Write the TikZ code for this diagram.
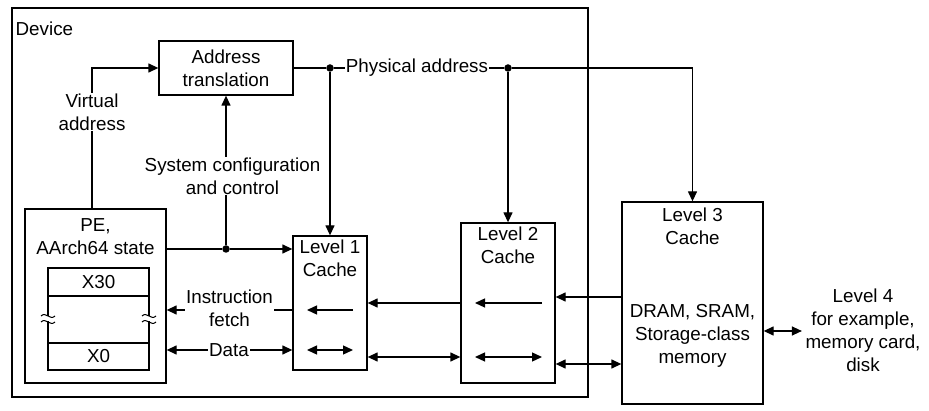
\documentclass[tikz,border=0pt]{standalone}
\usepackage{fontspec}
\setmainfont{Liberation Sans}
\usetikzlibrary{arrows.meta}
\begin{document}
\begin{tikzpicture}[x=1pt,y=-1pt,
  line width=1.3pt,
  box/.style={draw, rectangle, inner sep=0pt},
  txt/.style={align=center, inner sep=1pt, font=\fontsize{18.8}{23}\selectfont},
  lbl/.style={txt, fill=white},
  arr/.style={-{Triangle[length=10pt,width=9pt]}},
  darr/.style={{Triangle[length=10pt,width=9pt]}-{Triangle[length=10pt,width=9pt]}},
  dot/.style={circle, fill, inner sep=0pt, minimum size=7.5pt}]
\useasboundingbox (0,0) rectangle (929,411);
% boxes
\node[box, minimum width=576pt, minimum height=389pt] (dev) at (300,202.5) {};
\node[txt, anchor=west] (devlbl) at (14,29) {Device};
\node[box, txt, minimum width=134pt, minimum height=54pt] (at) at (226,68) {Address\\translation};
\node[box, minimum width=141pt, minimum height=174pt] (pe) at (95.5,296) {};
\node[txt] (pelbl) at (95.5,236.5) {PE,\\AArch64 state};
\node[box, minimum width=101pt, minimum height=102pt] (regs) at (98.5,319) {};
\node[txt] (x30) at (98.5,282) {X30};
\node[txt] (x0) at (98.5,356.5) {X0};
\node[box, minimum width=74pt, minimum height=134pt] (l1) at (330,303) {};
\node[txt] (l1lbl) at (330,258) {Level 1\\Cache};
\node[box, minimum width=94pt, minimum height=160pt] (l2) at (508,303) {};
\node[txt] (l2lbl) at (508,245.5) {Level 2\\Cache};
\node[box, minimum width=141pt, minimum height=202pt] (l3) at (692.5,303) {};
\node[txt] (l3lbl) at (692.5,226.5) {Level 3\\Cache};
\node[txt] (mem) at (692.5,336) {DRAM, SRAM,\\Storage-class\\memory};
\node[txt, inner sep=3pt] (l4) at (863,330) {Level 4\\for example,\\memory card,\\disk};
% register dividers and breaks
\coordinate (r1) at (0,296);
\coordinate (r2) at (0,343);
\draw (regs.west |- r1) -- (regs.east |- r1);
\draw (regs.west |- r2) -- (regs.east |- r2);
\foreach \xx/\nm in {48/bl, 149/br}{
  \fill[white] (\xx-3,316.5) rectangle (\xx+3,321.5);
  \draw[line width=1pt] (\xx-7,316) .. controls (\xx-2,311) and (\xx+2,321) .. (\xx+7,316);
  \draw[line width=1pt] (\xx-7,322) .. controls (\xx-2,317) and (\xx+2,327) .. (\xx+7,322);
}
% junctions
\node[dot] (d0) at (226,249) {};
\node[dot] (d1) at (330,68) {};
\node[dot] (d2) at (508,68) {};
\coordinate (vx) at (92,0);
% connectors
\draw[arr] (pe.north -| vx) |- (at.west);
\draw (pe.east |- d0) -- (d0);
\draw[arr] (d0) -- (l1.west |- d0);
\draw[arr] (d0) -- (at.south);
\draw (at.east) -- (d1) -- (d2);
\draw[arr] (d2) -| (l3.north);
\draw[arr] (d1) -- (l1.north);
\draw[arr] (d2) -- (l2.north);
\coordinate (yif) at (0,310);
\coordinate (ydt) at (0,350);
\draw[arr] (l1.west |- yif) -- (pe.east |- yif);
\draw[darr] (pe.east |- ydt) -- (l1.west |- ydt);
\coordinate (a1) at (353,310);
\coordinate (a2) at (307,310);
\draw[arr] (a1) -- (a2);
\coordinate (a3) at (307,350);
\coordinate (a4) at (353,350);
\draw[darr] (a3) -- (a4);
\coordinate (y12) at (0,303);
\coordinate (y12b) at (0,357);
\draw[arr] (l2.west |- y12) -- (l1.east |- y12);
\draw[darr] (l1.east |- y12b) -- (l2.west |- y12b);
\coordinate (b1) at (542,303);
\coordinate (b2) at (475,303);
\draw[arr] (b1) -- (b2);
\coordinate (b3) at (475,357);
\coordinate (b4) at (542,357);
\draw[darr] (b3) -- (b4);
\coordinate (y23) at (0,297);
\coordinate (y23b) at (0,364);
\draw[arr] (l3.west |- y23) -- (l2.east |- y23);
\draw[darr] (l2.east |- y23b) -- (l3.west |- y23b);
\coordinate (y34) at (0,331);
\draw[darr] (l3.east |- y34) -- (l4.west |- y34);
% labels on lines
\node[lbl] (va) at (92,112) {Virtual\\address};
\node[lbl] (sc) at (232.5,176) {System configuration\\and control};
\node[lbl] (pa) at (417,68) {Physical address};
\node[lbl] (if) at (229.5,308) {Instruction\\fetch};
\node[lbl] (dt) at (229,350) {Data};
\end{tikzpicture}
\end{document}
